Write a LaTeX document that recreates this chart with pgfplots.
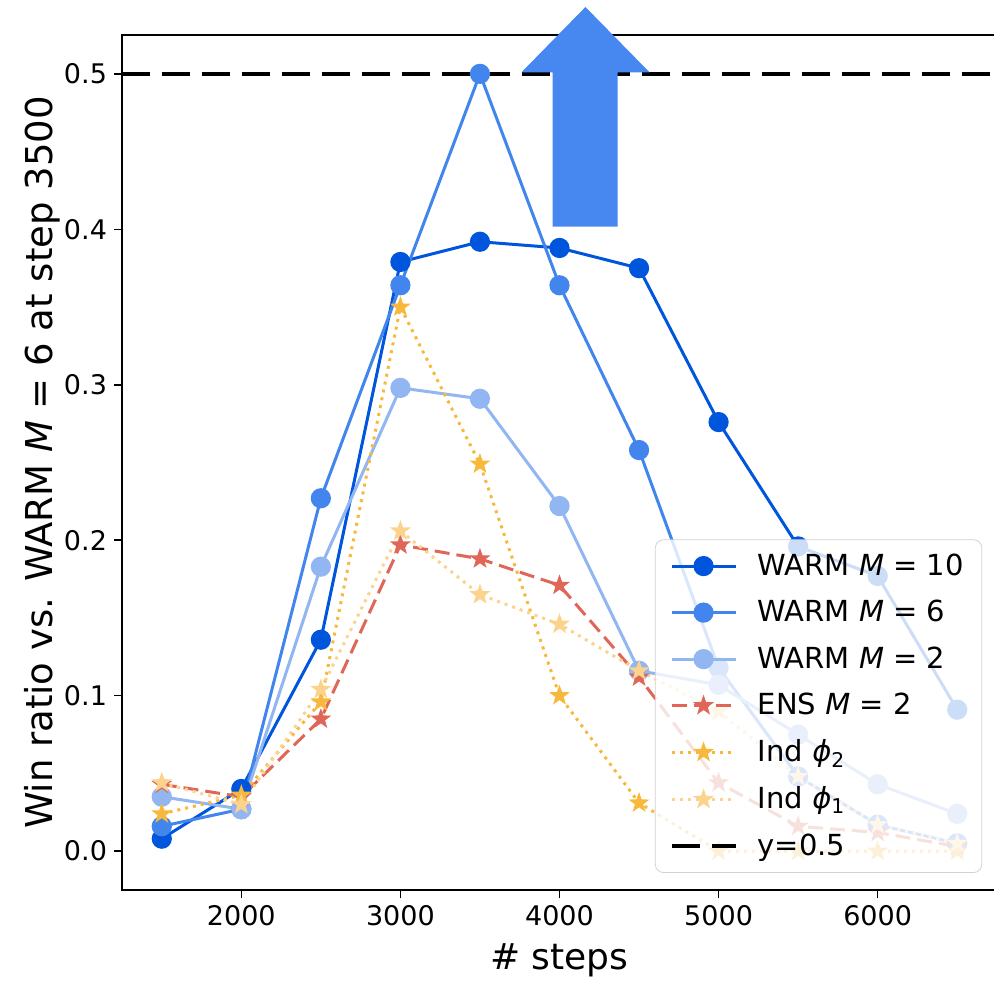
\documentclass[border=0pt]{standalone}
\usepackage{fontspec}
\setmainfont{DejaVu Sans}
\usepackage{pgfplots}
\pgfplotsset{compat=1.18}
\definecolor{cM10}{RGB}{0,85,221}
\definecolor{cM6}{RGB}{66,133,236}
\definecolor{cM2}{RGB}{145,182,242}
\definecolor{cENS}{RGB}{224,102,88}
\definecolor{cInd2}{RGB}{248,184,60}
\definecolor{cInd1}{RGB}{252,211,140}
\definecolor{arrowblue}{RGB}{70,135,240}
\definecolor{legframe}{RGB}{210,210,210}
\pgfdeclareplotmark{fstar}{%
  \pgfpathmoveto{\pgfpointpolar{90}{\pgfplotmarksize}}%
  \pgfpathlineto{\pgfpointpolar{126}{0.4\pgfplotmarksize}}%
  \pgfpathlineto{\pgfpointpolar{162}{\pgfplotmarksize}}%
  \pgfpathlineto{\pgfpointpolar{198}{0.4\pgfplotmarksize}}%
  \pgfpathlineto{\pgfpointpolar{234}{\pgfplotmarksize}}%
  \pgfpathlineto{\pgfpointpolar{270}{0.4\pgfplotmarksize}}%
  \pgfpathlineto{\pgfpointpolar{306}{\pgfplotmarksize}}%
  \pgfpathlineto{\pgfpointpolar{342}{0.4\pgfplotmarksize}}%
  \pgfpathlineto{\pgfpointpolar{18}{\pgfplotmarksize}}%
  \pgfpathlineto{\pgfpointpolar{54}{0.4\pgfplotmarksize}}%
  \pgfpathclose
  \pgfusepathqfill}
\pgfplotstableread{
x     m10   m6    m2    ens   ind2  ind1
1500  0.008 0.016 0.035 0.043 0.024 0.044
2000  0.040 0.027 0.027 0.035 0.036 0.030
2500  0.136 0.227 0.183 0.085 0.096 0.104
3000  0.379 0.364 0.298 0.197 0.350 0.206
3500  0.392 0.500 0.291 0.188 0.249 0.165
4000  0.388 0.364 0.222 0.171 0.100 0.146
4500  0.375 0.258 0.116 0.112 0.031 0.116
5000  0.276 0.118 0.107 0.044 0.000 0.090
5500  0.196 0.048 0.075 0.016 0.000 0.048
6000  0.177 0.017 0.043 0.012 0.000 0.017
6500  0.091 0.005 0.024 0.003 0.000 0.005
}\datatab
\begin{document}
\begin{tikzpicture}
\begin{axis}[
  scale only axis, width=437.5pt, height=427.5pt,
  xmin=1250, xmax=6750, ymin=-0.025, ymax=0.525,
  clip=false,
  axis line style={black, line width=0.8pt},
  xtick={2000,3000,4000,5000,6000},
  ytick={0,0.1,0.2,0.3,0.4,0.5},
  yticklabel style={/pgf/number format/.cd, fixed, fixed zerofill, precision=1},
  /pgf/number format/assume math mode=true,
  scaled x ticks=false, scaled y ticks=false,
  xticklabel={\pgfmathprintnumber[/pgf/number format/set thousands separator={}]{\tick}},
  tick align=outside, major tick length=4pt,
  tick style={black, line width=0.8pt},
  xtick pos=bottom, ytick pos=left,
  ticklabel style={font=\fontsize{13.5}{15}\selectfont},
  xlabel={\# steps},
  ylabel={Win ratio vs. WARM \textit{M} = 6 at step 3500},
  xlabel style={font=\fontsize{18}{21}\selectfont, at={(axis description cs:0.5,-0.082)}, anchor=center},
  ylabel style={font=\fontsize{18.5}{22}\selectfont, at={(axis description cs:-0.0914,0.5)}, anchor=center},
  legend style={at={(rel axis cs:0.983,0.02)}, anchor=south east,
    draw=legframe, rounded corners=4pt, fill=white, fill opacity=0.8, text opacity=1,
    font=\fontsize{14.5}{17}\selectfont, row sep=7pt, inner xsep=7pt, inner ysep=5pt,
    /tikz/every odd column/.append style={column sep=8pt}},
  legend cell align=left,
  legend image code/.code={\draw[fill opacity=1, draw opacity=1, mark repeat=2,mark phase=2] plot coordinates {(0pt,0pt) (16pt,0pt) (32pt,0pt)};},
  every axis plot/.append style={line width=1.5pt},
]
\addplot[cM10, mark=*, mark size=4.3pt, mark options={solid, fill=cM10, draw=cM10}] table[x=x,y=m10] {\datatab};
\addlegendentry{WARM \textit{M} = 10}
\addplot[cM6, mark=*, mark size=4.3pt, mark options={solid, fill=cM6, draw=cM6}] table[x=x,y=m6] {\datatab};
\addlegendentry{WARM \textit{M} = 6}
\addplot[cM2, mark=*, mark size=4.3pt, mark options={solid, fill=cM2, draw=cM2}] table[x=x,y=m2] {\datatab};
\addlegendentry{WARM \textit{M} = 2}
\addplot[cENS, dash pattern=on 7.5pt off 3.5pt, mark=fstar, mark size=5.5pt, mark options={solid, fill=cENS}] table[x=x,y=ens] {\datatab};
\addlegendentry{ENS \textit{M} = 2}
\addplot[cInd2, dash pattern=on 1.5pt off 2.5pt, mark=fstar, mark size=5.5pt, mark options={solid, fill=cInd2}] table[x=x,y=ind2] {\datatab};
\addlegendentry{Ind \textit{ϕ}\textsubscript{2}}
\addplot[cInd1, dash pattern=on 1.5pt off 2.5pt, mark=fstar, mark size=5.5pt, mark options={solid, fill=cInd1}] table[x=x,y=ind1] {\datatab};
\addlegendentry{Ind \textit{ϕ}\textsubscript{1}}
\addplot[black, line width=2.2pt, dash pattern=on 14pt off 6pt] coordinates {(1250,0.5) (6750,0.5)};
\addlegendentry{y=0.5}
\fill[arrowblue] (axis cs:3956,0.4017) -- (axis cs:3956,0.501) -- (axis cs:3761,0.501) -- (axis cs:4163,0.543) -- (axis cs:4566,0.501) -- (axis cs:4365,0.501) -- (axis cs:4365,0.4017) -- cycle;
\end{axis}
\pgfresetboundingbox
\path[use as bounding box] (-61pt,-45pt) rectangle (436pt,445pt);
\end{tikzpicture}
\end{document}
